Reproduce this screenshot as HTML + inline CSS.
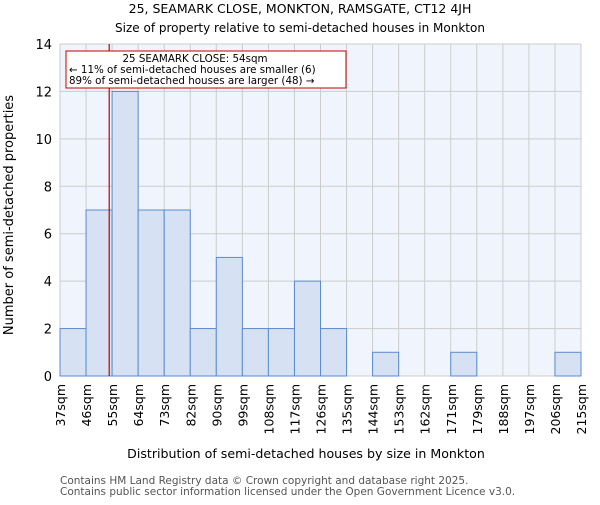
<!DOCTYPE html>
<html><head><meta charset="utf-8"><style>
body{margin:0;background:#fff;width:600px;height:500px;overflow:hidden}
svg text{font-family:"DejaVu Sans","Liberation Sans",sans-serif}
</style></head><body>
<svg id="chart" width="600" height="500">
<text x="300" y="13" font-size="12.5" text-anchor="middle">25, SEAMARK CLOSE, MONKTON, RAMSGATE, CT12 4JH</text>
<text x="300" y="32" font-size="12" text-anchor="middle">Size of property relative to semi-detached houses in Monkton</text>
<rect x="60" y="44" width="521" height="332" fill="#f0f4fc"/>
<g id="grid"></g><g id="bars"></g><g id="axes"></g>
<text x="306" y="458" font-size="12.6" text-anchor="middle">Distribution of semi-detached houses by size in Monkton</text>
<text transform="translate(13,215) rotate(-90)" font-size="13" text-anchor="middle">Number of semi-detached properties</text>
<text x="60" y="484" font-size="10.5" fill="#555">Contains HM Land Registry data © Crown copyright and database right 2025.</text>
<text x="60" y="495" font-size="10.5" fill="#555">Contains public sector information licensed under the Open Government Licence v3.0.</text>
</svg>
<script>
const binLabels=["37sqm","46sqm","55sqm","64sqm","73sqm","82sqm","90sqm","99sqm","108sqm","117sqm","126sqm","135sqm","144sqm","153sqm","162sqm","171sqm","179sqm","188sqm","197sqm","206sqm","215sqm"];
const counts=[2,7,12,7,7,2,5,2,2,4,2,0,1,0,0,1,0,0,0,1];
const yTicks=[0,2,4,6,8,10,12,14];
const propertySize=54;
const binEdges=[37,46,55,64,73,82,90,99,108,117,126,135,144,153,162,171,179,188,197,206,215];
const NS="http://www.w3.org/2000/svg";
const X0=60,X1=581,Y0=376,Y1=44,YMAX=14;
const n=counts.length,bw=(X1-X0)/n;
const xi=i=>X0+i*bw;
const y=v=>Y0-(v/YMAX)*(Y0-Y1);
function mk(t,a,p){const e=document.createElementNS(NS,t);for(const k in a)e.setAttribute(k,a[k]);p.appendChild(e);return e;}
const g=document.getElementById('grid'),b=document.getElementById('bars'),ax=document.getElementById('axes');
yTicks.forEach(t=>{const l=mk('line',{x1:X0,x2:X1,y1:y(t),y2:y(t),stroke:'#cccccc','stroke-width':1},g);


const tx=mk('text',{x:X0-8,y:y(t)+5,'font-size':13,'text-anchor':'end'},ax);tx.textContent=t;

});
binLabels.forEach((s,i)=>{const x=xi(i);const l=mk('line',{x1:x,x2:x,y1:Y1,y2:Y0,stroke:'#cccccc','stroke-width':1},g);


const tx=mk('text',{transform:`translate(${x+5},${Y0+8}) rotate(-90)`,'font-size':12.5,'text-anchor':'end'},ax);tx.textContent=s;

});
counts.forEach((c,i)=>{if(c<=0)return;const r=mk('rect',{x:xi(i),y:y(c),width:bw,height:Y0-y(c),fill:'#d6e1f3',stroke:'#5b8bd0','stroke-width':1},b);

});
let k=0;while(k<binEdges.length-2&&propertySize>binEdges[k+1])k++;
const px=xi(k)+bw*(propertySize-binEdges[k])/(binEdges[k+1]-binEdges[k]);
const pl=mk('line',{x1:px,x2:px,y1:Y1,y2:Y0,stroke:'#c00000','stroke-width':1.2},ax);


const box=mk('rect',{x:66,y:51,width:280,height:37,fill:'#fff',stroke:'#c00000','stroke-width':1},ax);


[["25 SEAMARK CLOSE: 54sqm",195,62,'middle'],["← 11% of semi-detached houses are smaller (6)",69,73,'start'],["89% of semi-detached houses are larger (48) →",69,84,'start']].forEach(a=>{
const t=mk('text',{x:a[1],y:a[2],'font-size':10.3,'text-anchor':a[3]},ax);t.textContent=a[0];

});
</script>
</body></html>
